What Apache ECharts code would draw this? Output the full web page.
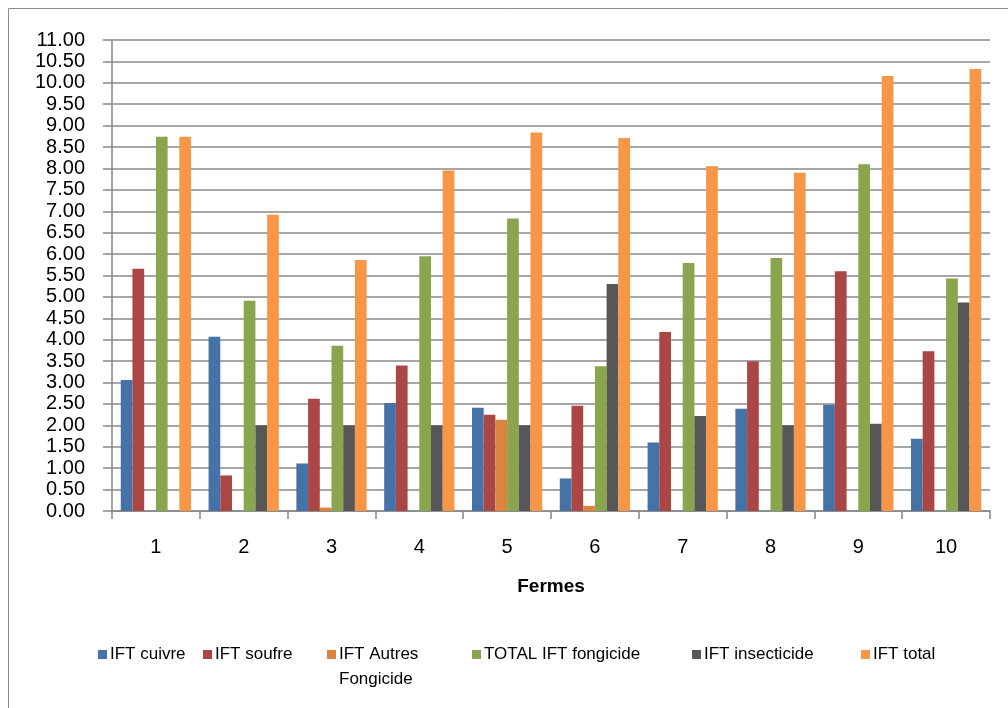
<!DOCTYPE html>
<html>
<head>
<meta charset="utf-8">
<script src="https://cdn.jsdelivr.net/npm/echarts@6/dist/echarts.min.js"></script>
<style>
  html, body { margin: 0; padding: 0; background: #fff; }
  #chart { width: 1008px; height: 708px; }
</style>
</head>
<body>
<div id="chart"></div>
<script>
// Farms on the category axis
const fermes = ['1', '2', '3', '4', '5', '6', '7', '8', '9', '10'];

// Treatment frequency indices per farm
const iftCuivre      = [3.06, 4.07, 1.11, 2.52, 2.41, 0.76, 1.60, 2.39, 2.48, 1.69];
const iftSoufre      = [5.66, 0.83, 2.62, 3.40, 2.25, 2.46, 4.18, 3.50, 5.60, 3.73];
const iftAutres      = [0, 0, 0.08, 0, 2.13, 0.12, 0, 0, 0, 0];
const totalFongicide = [8.74, 4.91, 3.86, 5.95, 6.83, 3.38, 5.79, 5.91, 8.10, 5.43];
const iftInsecticide = [0, 2.00, 2.00, 2.00, 2.00, 5.30, 2.22, 2.00, 2.04, 4.87];
const iftTotal       = [8.74, 6.92, 5.86, 7.95, 8.84, 8.71, 8.05, 7.90, 10.16, 10.32];

const seriesNames = ['IFT cuivre', 'IFT soufre', 'IFT Autres Fongicide',
                     'TOTAL IFT fongicide', 'IFT insecticide', 'IFT total'];
const seriesData = [iftCuivre, iftSoufre, iftAutres, totalFongicide, iftInsecticide, iftTotal];
const colors = ['#4572A7', '#AA4643', '#DB843D', '#89A54E', '#575757', '#F79646'];

const font = '"Liberation Sans", Arial, sans-serif';
const legendLeft = [98, 203, 327, 472, 692, 861];

const chart = echarts.init(document.getElementById('chart'));

chart.setOption({
  animation: false,
  color: colors,
  grid: { left: 112, right: 18, top: 40, bottom: 197 },
  legend: seriesNames.map((n, i) => ({
    data: [n],
    left: legendLeft[i],
    top: 646,
    icon: 'rect',
    itemWidth: 9,
    itemHeight: 9,
    padding: 0,
    formatter: n === 'IFT Autres Fongicide' ? 'IFT Autres' : '{name}',
    textStyle: { fontFamily: font, fontSize: 17, color: '#000', padding: [0, 0, 0, -2] }
  })),
  xAxis: {
    type: 'category',
    data: fermes,
    name: 'Fermes',
    nameLocation: 'middle',
    nameGap: 66,
    nameTextStyle: { fontFamily: font, fontSize: 19, fontWeight: 'bold', color: '#000' },
    axisLine: { lineStyle: { color: '#868686', width: 1.5 } },
    axisTick: { show: true, length: 8, lineStyle: { color: '#868686', width: 1.5 } },
    axisLabel: { margin: 26, fontFamily: font, fontSize: 20, color: '#000' }
  },
  yAxis: {
    type: 'value',
    min: 0,
    max: 11,
    interval: 0.5,
    axisLine: { show: true, lineStyle: { color: '#868686', width: 1.5 } },
    axisTick: { show: true, length: 9, lineStyle: { color: '#868686', width: 1.5 } },
    axisLabel: {
      margin: 27, fontFamily: font, fontSize: 20, color: '#000',
      formatter: v => v.toFixed(2)
    },
    splitLine: { lineStyle: { color: '#8a8a8a', width: 1.5 } }
  },
  series: seriesNames.map((n, i) => ({
    name: n,
    type: 'bar',
    data: seriesData[i],
    barGap: '0%',
    barCategoryGap: '20%',
    itemStyle: { color: colors[i] }
  })),
  graphic: [
    {
      type: 'rect',
      shape: { x: 8.5, y: 8.5, width: 1200, height: 900 },
      style: { fill: null, stroke: '#8a8a8a', lineWidth: 1 },
      silent: true
    },
    {
      type: 'text',
      left: 339,
      top: 671,
      style: { text: 'Fongicide', font: '17px ' + font, fill: '#000' },
      silent: true
    }
  ]
});
</script>
</body>
</html>
